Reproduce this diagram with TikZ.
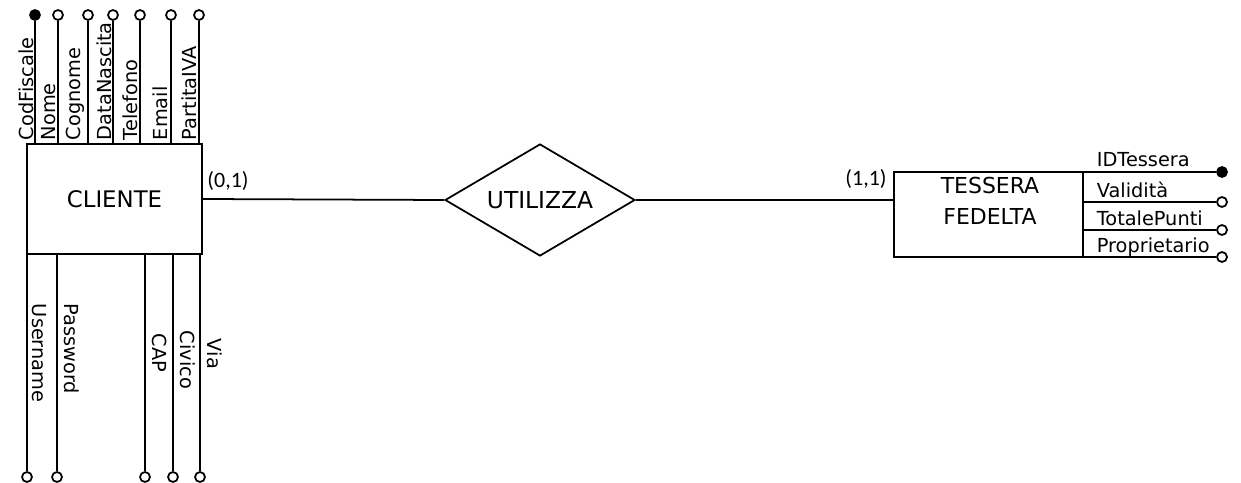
\documentclass[tikz,border=0pt]{standalone}
\usepackage{fontspec}
\setmainfont{DejaVu Sans}
\newfontfamily\cardfont{Carlito}
\usetikzlibrary{shapes.geometric}

\begin{document}
\begin{tikzpicture}[x=0.02cm, y=-0.02cm, line width=1pt,
    entita/.style={draw, rectangle, inner sep=0pt, font=\fontsize{13}{18}\selectfont},
    relazione/.style={draw, diamond, aspect=1.7, inner sep=0pt, minimum width=3.8cm, minimum height=2.24cm, font=\fontsize{13.3}{15}\selectfont},
    attr/.style={draw, circle, inner sep=0pt, minimum size=0.2cm},
    attrsu/.style={rotate=90, anchor=base west, inner sep=0pt, font=\fontsize{11}{13}\selectfont},
    attrgiu/.style={rotate=-90, anchor=base west, inner sep=0pt, font=\fontsize{11}{13}\selectfont},
    attrdx/.style={anchor=base west, inner sep=0pt, font=\fontsize{11}{13}\selectfont},
    card/.style={inner sep=0pt, font=\cardfont\fontsize{12.5}{14}\selectfont}]
            \useasboundingbox (0,0) rectangle (1241,483);

            % Entita'
            \node[entita, minimum width=3.5cm, minimum height=2.2cm] (cliente) at (114.5,199) {CLIENTE};
            \node[entita, minimum width=3.78cm, minimum height=1.7cm] (tessera) at (988.5,214.5) {};
            \node[align=center, font=\fontsize{12.5}{18}\selectfont] (tesseranome) at (990,201) {TESSERA\\FEDELTA};

            % Relazione
            \node[relazione] (utilizza) at (540,200) {UTILIZZA};

            % Collegamenti
            \draw (cliente.east) -- (utilizza.west);
            \draw (utilizza.east) -- (utilizza.east -| tessera.west);
            \node[card] (card1) at (228,181) {(0,1)};
            \node[card] (card2) at (866,179) {(1,1)};

            % Attributi sopra CLIENTE
            \foreach \x/\lx/\nome/\f [count=\i] in {35/33/CodFiscale/black, 58/55/Nome/white, 88/80/Cognome/white, 113/111/DataNascita/white, 140/137/Telefono/white, 171/167/Email/white, 199/196/PartitaIVA/white} {
                \node[attr, fill=\f] (su\i) at (\x,15) {};
                \draw (su\i) -- (su\i |- cliente.north);
                \node[attrsu] (tsu\i) at (\lx,141) {\nome};
            }

            % Attributi sotto CLIENTE
            \foreach \x/\lx/\q/\nome [count=\i] in {27/32/303/Username, 57/64/303/Password, 145/152/333/CAP, 173/180/330/Civico, 200/207/338/Via} {
                \node[attr, fill=white] (giu\i) at (\x,477) {};
                \draw (giu\i) -- (giu\i |- cliente.south);
                \node[attrgiu] (tgiu\i) at (\lx,\q) {\nome};
            }

            % Attributi TESSERA FEDELTA
            \foreach \q/\nome/\f [count=\i] in {172/IDTessera/black, 202/Validità/white, 230/TotalePunti/white, 257/Proprietario/white} {
                \node[attr, fill=\f] (dx\i) at (1222,\q) {};
                \draw (dx\i) -- (dx\i -| tessera.east);
                \node[attrdx] (tdx\i) at (1096,\q-5) {\nome};
            }
        \end{tikzpicture}
\end{document}
